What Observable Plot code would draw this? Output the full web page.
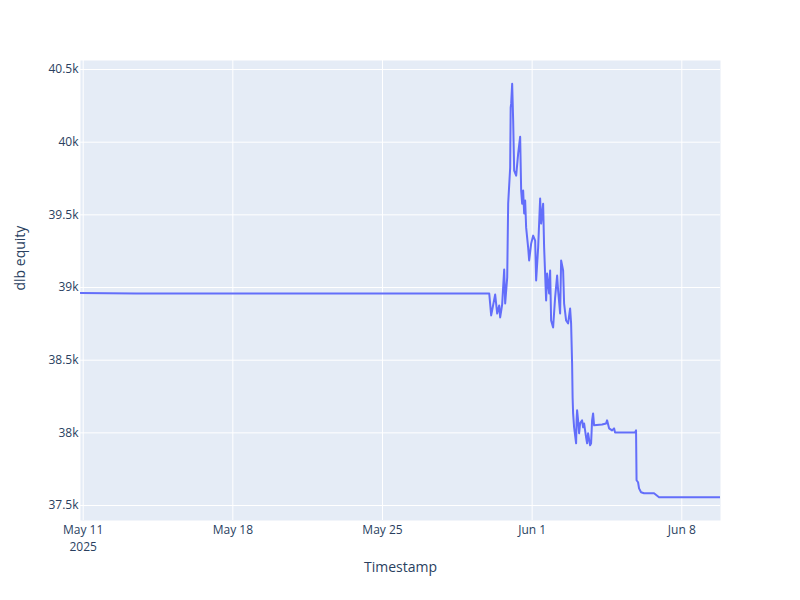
<!DOCTYPE html>
<html><head><meta charset="utf-8">
<script src="https://cdn.jsdelivr.net/npm/d3@7"></script>
<script src="https://cdn.jsdelivr.net/npm/@observablehq/plot@0.6"></script>
<style>body{margin:0;background:#fff;}</style>
</head><body><div id="chart"></div>
<script>
const timestamps = [
  "2025-05-10T21:00","2025-05-13T11:24","2025-05-29T23:50","2025-05-30T02:00","2025-05-30T06:30",
  "2025-05-30T08:45","2025-05-30T11:00","2025-05-30T12:06","2025-05-30T14:20","2025-05-30T16:36",
  "2025-05-30T17:43","2025-05-30T20:00","2025-05-30T21:05","2025-05-30T23:20","2025-05-30T23:53",
  "2025-05-31T00:27","2025-05-31T01:34","2025-05-31T02:42","2025-05-31T03:49","2025-05-31T06:04",
  "2025-05-31T08:18","2025-05-31T10:32","2025-05-31T11:40","2025-05-31T12:47","2025-05-31T13:54",
  "2025-05-31T15:02","2025-05-31T16:09","2025-05-31T17:16","2025-05-31T19:31","2025-05-31T20:38",
  "2025-05-31T22:53","2025-06-01T01:07","2025-06-01T03:22","2025-06-01T04:29","2025-06-01T06:44",
  "2025-06-01T08:58","2025-06-01T10:05","2025-06-01T12:20","2025-06-01T13:27","2025-06-01T15:42",
  "2025-06-01T16:49","2025-06-01T19:04","2025-06-01T20:11","2025-06-01T21:18","2025-06-01T23:33",
  "2025-06-02T01:47","2025-06-02T04:02","2025-06-02T05:10","2025-06-02T07:24","2025-06-02T08:32",
  "2025-06-02T10:46","2025-06-02T11:53","2025-06-02T14:08","2025-06-02T16:22","2025-06-02T18:37",
  "2025-06-02T19:44","2025-06-02T20:51","2025-06-02T21:25","2025-06-02T21:59","2025-06-02T23:06",
  "2025-06-03T01:21","2025-06-03T01:54","2025-06-03T02:28","2025-06-03T03:35","2025-06-03T04:43",
  "2025-06-03T05:50","2025-06-03T08:04","2025-06-03T09:12","2025-06-03T10:19","2025-06-03T12:33",
  "2025-06-03T13:41","2025-06-03T14:48","2025-06-03T17:03","2025-06-03T18:10","2025-06-03T19:17",
  "2025-06-03T20:25","2025-06-03T21:32","2025-06-04T06:30","2025-06-04T11:00","2025-06-04T12:07",
  "2025-06-04T14:22","2025-06-04T17:44","2025-06-04T19:58","2025-06-04T21:05","2025-06-05T19:30",
  "2025-06-05T20:38","2025-06-05T21:12","2025-06-05T22:53","2025-06-06T00:00","2025-06-06T02:15",
  "2025-06-06T05:37","2025-06-06T16:50","2025-06-06T22:26","2025-06-09T19:26"
];
const equity = [
  38963,38959,38959,38808,38952,
  38821,38876,38794,38883,39124,
  38890,39069,39577,39825,40237,
  40265,40402,40148,39804,39770,
  39921,40038,39667,39577,39667,
  39509,39598,39412,39275,39186,
  39302,39357,39323,39048,39275,
  39612,39440,39577,39275,38911,
  39096,38959,39117,38773,38725,
  38931,39082,38979,38821,39186,
  39117,38890,38773,38753,38856,
  38753,38478,38244,38134,38038,
  37928,38086,38155,38086,37997,
  38065,38086,38038,38065,37969,
  37928,37997,37914,37928,38086,
  38134,38052,38058,38065,38086,
  38031,38017,38031,38003,38003,
  38017,37674,37660,37618,37591,
  37584,37584,37557,37557
];
const xTickLabels = ["2025-05-11","2025-05-18","2025-05-25","2025-06-01","2025-06-08"];
const yTickValues = [37500,38000,38500,39000,39500,40000,40500];
const xDomainLabels = ["2025-05-10T21:00","2025-06-09T19:26"];
const yDomain = [37397, 40562];

const parse = s => new Date(s.length === 10 ? s + "T00:00Z" : s + "Z");
const data = timestamps.map((t, i) => ({t: parse(t), v: equity[i]}));
const xTicks = xTickLabels.map(parse);
const fmtDay = d3.utcFormat("%b %-d");
const xFmt = (d, i) => i === 0 ? fmtDay(d) + "\n" + d.getUTCFullYear() : fmtDay(d);
const yFmt = d => (d / 1000) + "k";

const chart = Plot.plot({
  width: 800, height: 600,
  marginLeft: 80, marginRight: 80, marginTop: 60, marginBottom: 80,
  style: {fontFamily: "'Open Sans', sans-serif", fontSize: "12px", color: "#2a3f5f", background: "white"},
  x: {type: "utc", domain: xDomainLabels.map(parse)},
  y: {domain: yDomain},
  marks: [
    Plot.frame({fill: "#E5ECF6", stroke: null}),
    Plot.gridX(xTicks, {stroke: "white", strokeOpacity: 1, strokeWidth: 1}),
    Plot.gridY(yTickValues, {stroke: "white", strokeOpacity: 1, strokeWidth: 1}),
    Plot.axisX(xTicks, {tickSize: 0, tickPadding: 2, tickFormat: xFmt, label: null, lineHeight: 1.4, fontSize: 12}),
    Plot.axisY(yTickValues, {tickSize: 0, tickPadding: 2, tickFormat: yFmt, label: null, fontSize: 12}),
    Plot.line(data, {x: "t", y: "v", stroke: "#636EFA", strokeWidth: 2, clip: true}),
    Plot.text(["Timestamp"], {text: d => d, frameAnchor: "bottom", dy: 51, fontSize: 14, fill: "#2a3f5f"}),
    Plot.text(["dlb equity"], {text: d => d, frameAnchor: "left", dx: -60, rotate: -90, fontSize: 14, fill: "#2a3f5f"})
  ]
});
document.getElementById("chart").append(chart);
</script>
</body></html>
